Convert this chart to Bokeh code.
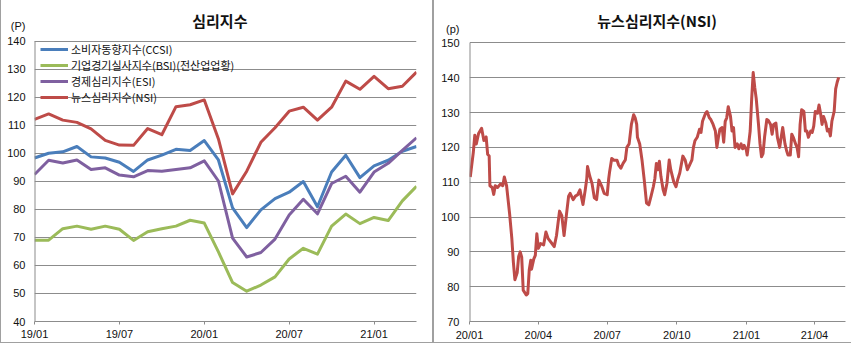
from datetime import datetime
import pandas as pd
from bokeh.plotting import figure
from bokeh.models import (Range1d, FixedTicker, Label, MonthsTicker,
                          DatetimeTickFormatter, InlineStyleSheet)
from bokeh.layouts import row
from bokeh.embed import file_html
from bokeh.resources import INLINE

# ---------------- data: left chart (monthly) ----------------
months = ["19/01", "19/02", "19/03", "19/04", "19/05", "19/06", "19/07", "19/08", "19/09", "19/10",
          "19/11", "19/12", "20/01", "20/02", "20/03", "20/04", "20/05", "20/06", "20/07", "20/08",
          "20/09", "20/10", "20/11", "20/12", "21/01", "21/02", "21/03", "21/04"]
ccsi = [98.3, 100.0, 100.5, 102.4, 98.7, 98.3, 96.8, 93.5, 97.6, 99.3, 101.4, 101.0, 104.5, 97.6,
        80.5, 73.5, 79.8, 83.8, 86.1, 89.9, 80.9, 93.3, 99.3, 91.3, 95.5, 97.5, 100.7, 102.4]
bsi = [69.0, 69.0, 73.1, 74.0, 72.9, 74.0, 72.9, 68.9, 72.0, 73.1, 74.0, 76.1, 75.1, 64.8,
       53.9, 50.8, 53.0, 55.9, 62.3, 66.1, 64.0, 74.0, 78.3, 74.9, 77.1, 76.0, 83.0, 88.2]
esi = [92.4, 97.5, 96.5, 97.6, 94.2, 94.8, 92.2, 91.6, 93.8, 93.6, 94.2, 94.8, 97.3, 90.1,
       69.7, 63.0, 64.6, 69.4, 78.0, 83.6, 78.4, 89.2, 91.8, 86.1, 93.3, 96.4, 101.0, 105.5]
nsi_monthly = [112.1, 114.0, 111.8, 111.0, 108.7, 104.6, 102.9, 102.8, 108.8, 106.6, 116.6, 117.3,
               119.0, 105.1, 85.5, 93.6, 103.9, 109.1, 115.0, 116.4, 111.8, 116.4, 125.7, 122.8,
               127.4, 123.0, 123.9, 128.9]
left_tick_labels = ["19/01", "19/07", "20/01", "20/07", "21/01"]
left_yticks = [40, 50, 60, 70, 80, 90, 100, 110, 120, 130, 140]
series_names = ["소비자동향지수(CCSI)", "기업경기실사지수(BSI)(전산업업황)", "경제심리지수(ESI)", "뉴스심리지수(NSI)"]
left_title = "심리지수"
left_unit = "(P)"

# ---------------- data: right chart (daily NSI) ----------------
nsi_dates = [
    "2020-01-02", "2020-01-06", "2020-01-08", "2020-01-10", "2020-01-13", "2020-01-17", "2020-01-20",
    "2020-01-23", "2020-01-25", "2020-01-27", "2020-01-28", "2020-01-31", "2020-02-02", "2020-02-04",
    "2020-02-07", "2020-02-11", "2020-02-14", "2020-02-16", "2020-02-19", "2020-02-23", "2020-02-26",
    "2020-02-28", "2020-03-01", "2020-03-04", "2020-03-06", "2020-03-08", "2020-03-10", "2020-03-12",
    "2020-03-16", "2020-03-18", "2020-03-20", "2020-03-22", "2020-03-23", "2020-03-26", "2020-03-28",
    "2020-03-30", "2020-04-01", "2020-04-04", "2020-04-08", "2020-04-11", "2020-04-14", "2020-04-19",
    "2020-04-22", "2020-04-25", "2020-04-29", "2020-05-02", "2020-05-05", "2020-05-08", "2020-05-11",
    "2020-05-13", "2020-05-17", "2020-05-20", "2020-05-23", "2020-05-26", "2020-05-30", "2020-06-02",
    "2020-06-04", "2020-06-05", "2020-06-08", "2020-06-11", "2020-06-14", "2020-06-17", "2020-06-20",
    "2020-06-24", "2020-06-27", "2020-07-01", "2020-07-03", "2020-07-04", "2020-07-07", "2020-07-10",
    "2020-07-14", "2020-07-16", "2020-07-19", "2020-07-22", "2020-07-25", "2020-07-27", "2020-07-30",
    "2020-08-02", "2020-08-05", "2020-08-07", "2020-08-09", "2020-08-10", "2020-08-13", "2020-08-16",
    "2020-08-19", "2020-08-22", "2020-08-25", "2020-08-28", "2020-08-31", "2020-09-02", "2020-09-04",
    "2020-09-06", "2020-09-08", "2020-09-10", "2020-09-13", "2020-09-15", "2020-09-18", "2020-09-21",
    "2020-09-23", "2020-09-27", "2020-09-30", "2020-10-02", "2020-10-05", "2020-10-09", "2020-10-12",
    "2020-10-15", "2020-10-18", "2020-10-21", "2020-10-23", "2020-10-25", "2020-10-28", "2020-10-31",
    "2020-11-02", "2020-11-04", "2020-11-08", "2020-11-10", "2020-11-13", "2020-11-15", "2020-11-18",
    "2020-11-21", "2020-11-23", "2020-11-25", "2020-11-27", "2020-11-30", "2020-12-02", "2020-12-04",
    "2020-12-06", "2020-12-08", "2020-12-11", "2020-12-13", "2020-12-15", "2020-12-17", "2020-12-20",
    "2020-12-22", "2020-12-25", "2020-12-27", "2020-12-29", "2021-01-01", "2021-01-02", "2021-01-04",
    "2021-01-06", "2021-01-08", "2021-01-10", "2021-01-12", "2021-01-14", "2021-01-17", "2021-01-19",
    "2021-01-21", "2021-01-23", "2021-01-25", "2021-01-28", "2021-01-30", "2021-02-02", "2021-02-04",
    "2021-02-06", "2021-02-09", "2021-02-11", "2021-02-14", "2021-02-16", "2021-02-18", "2021-02-21",
    "2021-02-23", "2021-02-25", "2021-02-28", "2021-03-02", "2021-03-04", "2021-03-07", "2021-03-09",
    "2021-03-11", "2021-03-13", "2021-03-15", "2021-03-18", "2021-03-20", "2021-03-22", "2021-03-24",
    "2021-03-27", "2021-03-29", "2021-03-31", "2021-04-02", "2021-04-05", "2021-04-07", "2021-04-09",
    "2021-04-11", "2021-04-13", "2021-04-16", "2021-04-18", "2021-04-20", "2021-04-22", "2021-04-24",
    "2021-04-27", "2021-04-29", "2021-05-01", "2021-05-03"]
nsi_values = [
    111.5, 118.5, 123.5, 121.0, 124.0, 125.5, 122.0, 123.0, 118.0, 117.5, 109.0, 108.5, 106.5, 109.0,
    108.5, 109.5, 109.0, 111.5, 109.0, 101.0, 93.7, 87.0, 82.0, 84.0, 88.7, 90.0, 88.5, 79.0,
    77.6, 78.0, 84.9, 87.6, 85.0, 88.0, 89.0, 95.2, 91.0, 92.4, 92.0, 95.7, 93.8, 92.4,
    91.5, 94.7, 101.7, 100.4, 94.7, 100.4, 106.0, 106.8, 105.0, 106.0, 106.4, 107.8, 103.6, 107.8,
    111.0, 114.5, 111.7, 109.6, 105.5, 105.0, 110.6, 108.7, 106.8, 106.4, 111.0, 112.7, 116.8, 116.3,
    116.3, 115.0, 114.0, 115.4, 116.4, 120.0, 121.0, 126.6, 129.4, 128.5, 126.6, 122.9, 121.0, 116.4,
    110.6, 104.0, 103.5, 106.0, 108.7, 111.0, 115.4, 113.6, 116.0, 111.7, 107.8, 106.4, 109.7, 116.4,
    113.6, 110.1, 108.7, 110.6, 112.7, 117.5, 116.4, 113.6, 115.0, 116.4, 120.0, 121.9, 122.9, 125.2,
    124.3, 127.5, 129.8, 130.3, 128.5, 128.0, 126.6, 124.7, 120.0, 122.9, 125.2, 125.7, 121.5, 127.5,
    128.5, 131.7, 128.9, 124.7, 125.7, 120.0, 121.0, 119.6, 121.0, 119.6, 120.6, 119.2, 117.8, 121.0,
    124.7, 134.0, 141.5, 137.3, 134.0, 126.6, 121.0, 117.3, 118.2, 122.9, 128.0, 127.7, 126.6, 123.8,
    126.6, 127.0, 122.9, 120.0, 122.9, 125.7, 121.0, 119.2, 117.8, 117.8, 123.8, 122.9, 121.0, 120.0,
    117.3, 126.6, 130.8, 130.3, 124.7, 124.7, 122.9, 124.7, 124.3, 126.1, 130.3, 129.8, 132.2, 129.8,
    126.6, 128.9, 127.0, 124.7, 125.2, 123.3, 127.5, 130.3, 136.8, 138.7, 140.1]
right_yticks = [70, 80, 90, 100, 110, 120, 130, 140, 150]
right_title = "뉴스심리지수(NSI)"
right_unit = "(p)"

colors = ["#4A7EBB", "#9BBB59", "#7F60A0", "#BE4B48"]
GRID = "#8C8C8C"
TICK_FONT = "Liberation Sans"
KR_FONT = "Noto Sans CJK KR"


def style_axes(p):
    for ax in (p.xaxis, p.yaxis):
        ax.axis_line_color = GRID
        ax.major_tick_line_color = GRID
        ax.minor_tick_line_color = None
        ax.major_tick_in = 0
        ax.major_label_text_font = TICK_FONT
        ax.major_label_text_font_size = "11px"
        ax.major_label_text_color = "#111111"
    p.yaxis.axis_line_color = None
    p.yaxis.major_tick_out = 0
    p.xgrid.grid_line_color = None
    p.ygrid.grid_line_color = GRID
    p.ygrid.grid_line_width = 1
    p.outline_line_color = None


# ---------------- left chart ----------------
L_TOP, L_UNIT_Y, L_TITLE_Y = 154.1, 145.5, 147.4
x_idx = list(range(len(months)))
p1 = figure(width=433, height=343, output_backend="svg", toolbar_location=None,
            x_range=Range1d(0, len(months) - 1), y_range=Range1d(40, L_TOP),
            min_border_left=34, min_border_right=17, min_border_top=1, min_border_bottom=19)
for vals, name, col in zip([ccsi, bsi, esi, nsi_monthly], series_names, colors):
    p1.line(x_idx, vals, line_width=3, color=col, legend_label=name, line_join="round")
style_axes(p1)
# y axis line only over the value range
p1.segment(x0=[0], y0=[left_yticks[0]], x1=[0], y1=[left_yticks[-1]], line_color=GRID, line_width=2)
p1.xaxis.ticker = FixedTicker(ticks=[months.index(m) for m in left_tick_labels])
p1.xaxis.major_label_overrides = {months.index(m): m for m in left_tick_labels}
p1.xaxis.major_tick_out = 3
p1.xaxis.major_label_standoff = 3
p1.yaxis.ticker = FixedTicker(ticks=left_yticks + [L_UNIT_Y])
p1.yaxis.major_label_overrides = {L_UNIT_Y: left_unit}
p1.yaxis.major_label_standoff = 9
p1.ygrid.ticker = FixedTicker(ticks=left_yticks)
p1.legend.location = (3, 213)
p1.legend.margin = 0
p1.legend.padding = 3
p1.legend.spacing = 0
p1.legend.label_height = 14
p1.legend.glyph_height = 14
p1.legend.glyph_width = 28
p1.legend.label_standoff = 3
p1.legend.label_text_font = KR_FONT
p1.legend.label_text_font_size = "11px"
p1.legend.label_text_color = "#111111"
p1.legend.background_fill_alpha = 0
p1.legend.border_line_alpha = 0
p1.add_layout(Label(x=13.1, y=L_TITLE_Y, text=left_title, text_font=KR_FONT, text_font_size="15px",
                    text_font_style="bold", text_align="center", text_baseline="middle",
                    text_color="#111111"))
p1.stylesheets = [InlineStyleSheet(css=":host { box-shadow: inset 1px 0 0 #A0A0A0, inset -1px 0 0 #A0A0A0, inset 0 -1px 0 #A0A0A0; }")]
p1.border_fill_color = None
p1.background_fill_color = None

# ---------------- right chart ----------------
R_TOP, R_UNIT_Y, R_TITLE_Y = 161.9, 154, 156.5
dates = pd.to_datetime(nsi_dates)
p2 = figure(width=418, height=343, output_backend="svg", toolbar_location=None,
            x_axis_type="datetime",
            x_range=Range1d(datetime(2020, 1, 1), datetime(2021, 5, 12)), y_range=Range1d(70, R_TOP),
            min_border_left=36, min_border_right=6, min_border_top=1, min_border_bottom=21)
p2.line(dates, nsi_values, line_width=3, color=colors[3], line_join="round")
style_axes(p2)
p2.segment(x0=[datetime(2020, 1, 1)], y0=[right_yticks[0]], x1=[datetime(2020, 1, 1)],
           y1=[right_yticks[-1]], line_color=GRID, line_width=2)
p2.xaxis.ticker = MonthsTicker(months=[0, 3, 6, 9])
fmt = "%y/%m"
p2.xaxis.formatter = DatetimeTickFormatter(days=fmt, months=fmt, years=fmt)
p2.xaxis.major_tick_out = 3
p2.xaxis.major_label_standoff = 4
p2.yaxis.ticker = FixedTicker(ticks=right_yticks + [R_UNIT_Y])
p2.yaxis.major_label_overrides = {R_UNIT_Y: right_unit}
p2.yaxis.major_label_standoff = 10
p2.ygrid.ticker = FixedTicker(ticks=right_yticks)
p2.add_layout(Label(x=datetime(2020, 9, 5), y=R_TITLE_Y, text=right_title, text_font=KR_FONT,
                    text_font_size="15px", text_font_style="bold", text_align="center",
                    text_baseline="middle", text_color="#111111"))
p2.stylesheets = [InlineStyleSheet(css=":host { box-shadow: inset 1px 0 0 #A0A0A0, inset 0 -1px 0 #A0A0A0; }")]
p2.border_fill_color = None
p2.background_fill_color = None

layout = row(p1, p2)
open("out.html", "w").write(file_html(layout, INLINE))
